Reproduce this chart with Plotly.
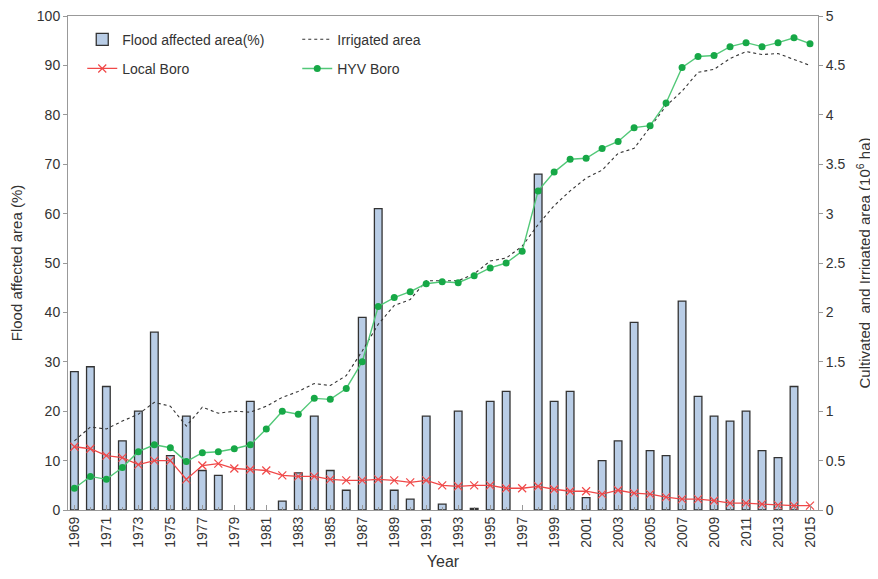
import plotly.graph_objects as go

years = list(range(1969, 2016))

# None = no flood bar drawn for that year
flood_pct = [28, 29, 25, 14, 20, 36, 11, 19, 8, 7,
             None, 22, None, 1.8, 7.5, 19, 8, 4, 39, 61,
             4, 2.2, 19, 1.2, 20, 0.3, 22, 24, None, 68,
             22, 24, 2.5, 10, 14, 38, 12, 11, 42.3, 23,
             19, 18, 20, 12, 10.6, 25, None]

irrigated = [0.70, 0.84, 0.82, 0.90, 0.97, 1.09, 1.05, 0.85, 1.04, 0.98,
             1.00, 0.99, 1.05, 1.14, 1.20, 1.28, 1.26, 1.36, 1.61, 1.88,
             2.07, 2.13, 2.32, 2.32, 2.32, 2.39, 2.52, 2.55, 2.67, 2.89,
             3.08, 3.23, 3.36, 3.44, 3.61, 3.66, 3.88, 4.09, 4.24, 4.43,
             4.46, 4.57, 4.64, 4.61, 4.62, 4.56, 4.50]

local_boro = [0.64, 0.62, 0.55, 0.53, 0.46, 0.50, 0.50, 0.31, 0.45, 0.47,
              0.42, 0.41, 0.40, 0.35, 0.34, 0.34, 0.31, 0.30, 0.30, 0.31,
              0.30, 0.28, 0.30, 0.25, 0.24, 0.25, 0.25, 0.22, 0.22, 0.24,
              0.21, 0.19, 0.19, 0.16, 0.20, 0.17, 0.16, 0.13, 0.11, 0.11,
              0.094, 0.07, 0.07, 0.06, 0.05, 0.045, 0.045]

hyv_boro = [0.22, 0.34, 0.31, 0.43, 0.59, 0.66, 0.63, 0.49, 0.58, 0.59,
            0.62, 0.66, 0.82, 1.00, 0.97, 1.13, 1.12, 1.23, 1.50, 2.06,
            2.15, 2.21, 2.29, 2.31, 2.30, 2.37, 2.45, 2.50, 2.62, 3.23,
            3.42, 3.55, 3.56, 3.66, 3.73, 3.87, 3.89, 4.12, 4.48, 4.59,
            4.60, 4.69, 4.73, 4.69, 4.73, 4.78, 4.72]

tick_years = list(range(1969, 2016, 2))

FONT = "Liberation Sans, Arial, sans-serif"

fig = go.Figure()
fig.add_trace(go.Bar(
    x=years, y=flood_pct, name="Flood affected area(%)", width=0.48,
    marker=dict(color="#b9cde6", line=dict(color="#333333", width=1.3)),
    yaxis="y", legend="legend"))
fig.add_trace(go.Scatter(
    x=years, y=irrigated, name="Irrigated area", mode="lines",
    line=dict(color="#333333", width=1.1, dash="dot"),
    yaxis="y2", legend="legend"))
fig.add_trace(go.Scatter(
    x=years, y=local_boro, name="Local Boro", mode="lines+markers",
    line=dict(color="#f04848", width=1.3),
    marker=dict(symbol="x-thin", size=8, line=dict(color="#f04848", width=1.2)),
    yaxis="y2", legend="legend2"))
fig.add_trace(go.Scatter(
    x=years, y=hyv_boro, name="HYV Boro", mode="lines+markers",
    line=dict(color="#52c878", width=1.4),
    marker=dict(symbol="circle", size=7, color="#17a847"),
    yaxis="y2", legend="legend2"))

# page body adds an 8px offset, so the figure is sized 8px smaller
fig.update_layout(
    width=870, height=571,
    margin=dict(l=60, r=60, t=8, b=69),
    paper_bgcolor="white", plot_bgcolor="white",
    font=dict(family=FONT, size=13, color="#333333"),
    showlegend=True,
    xaxis=dict(
        range=[1968.6, 2015.5], tickvals=tick_years, tickangle=-90,
        ticks="inside", ticklen=5, tickcolor="#999999",
        minor=dict(dtick=1, tick0=1969, ticks="inside", ticklen=3, tickcolor="#999999"),
        showline=True, linecolor="#999999", linewidth=1, mirror=True,
        showgrid=False, zeroline=False, automargin=False, ticklabeloverflow="allow",
        tickfont=dict(size=14, color="#333333"),
        title=dict(text="Year", font=dict(size=16, color="#333333"), standoff=9)),
    yaxis=dict(
        range=[0, 100], dtick=10, ticks="outside", ticklen=4, tickcolor="#999999",
        showline=True, linecolor="#999999", linewidth=1,
        showgrid=False, zeroline=False, automargin=False, ticklabeloverflow="allow",
        tickfont=dict(size=14, color="#333333"),
        title=dict(text="Flood affected area (%)", font=dict(size=15, color="#333333"), standoff=18)),
    yaxis2=dict(
        range=[0, 5], dtick=0.5, overlaying="y", side="right",
        ticks="outside", ticklen=4, tickcolor="#999999",
        showline=True, linecolor="#999999", linewidth=1,
        showgrid=False, zeroline=False, automargin=False, ticklabeloverflow="allow",
        tickfont=dict(size=14, color="#333333"),
        title=dict(text="Cultivated  and Irrigated area (10<sup>6</sup> ha)",
                   font=dict(size=15, color="#333333"), standoff=15)),
    legend=dict(orientation="h", x=0.019, y=0.952, xanchor="left", yanchor="middle",
                entrywidth=170, bgcolor="rgba(0,0,0,0)",
                font=dict(size=14, color="#333333"), itemwidth=30),
    legend2=dict(orientation="h", x=0.019, y=0.893, xanchor="left", yanchor="middle",
                 entrywidth=170, bgcolor="rgba(0,0,0,0)",
                 font=dict(size=14, color="#333333"), itemwidth=30),
)

fig.write_html("out.html")
